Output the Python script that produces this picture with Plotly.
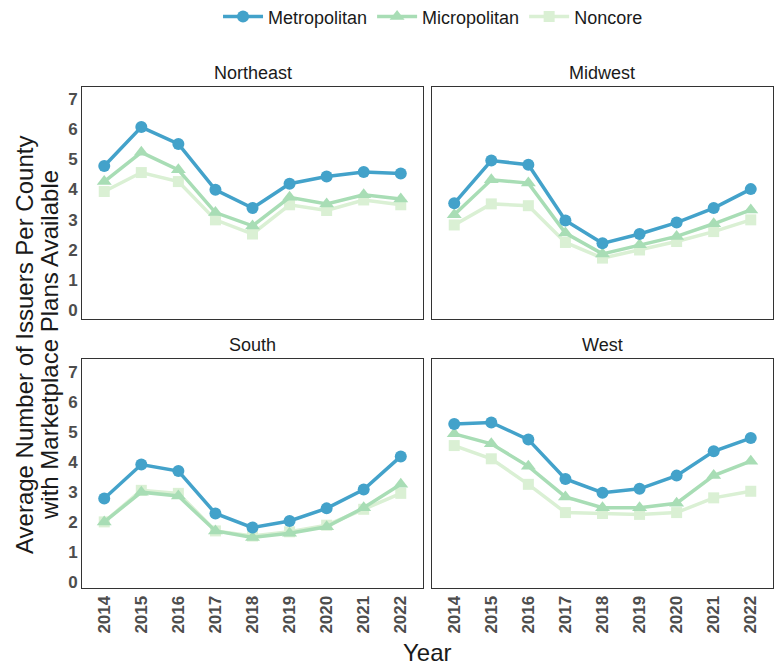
import plotly.graph_objects as go

years = [2014, 2015, 2016, 2017, 2018, 2019, 2020, 2021, 2022]
regions = ["Northeast", "Midwest", "South", "West"]
series_names = ["Metropolitan", "Micropolitan", "Noncore"]

northeast_metro = [4.78, 6.07, 5.51, 3.99, 3.38, 4.19, 4.43, 4.58, 4.53]
northeast_micro = [4.26, 5.23, 4.65, 3.23, 2.79, 3.74, 3.52, 3.82, 3.68]
northeast_noncore = [3.93, 4.56, 4.26, 2.99, 2.52, 3.49, 3.30, 3.65, 3.49]

midwest_metro = [3.54, 4.96, 4.82, 2.97, 2.21, 2.52, 2.90, 3.38, 4.01]
midwest_micro = [3.16, 4.32, 4.21, 2.55, 1.86, 2.16, 2.44, 2.86, 3.32]
midwest_noncore = [2.82, 3.52, 3.46, 2.24, 1.72, 1.99, 2.27, 2.60, 2.99]

south_metro = [2.78, 3.91, 3.69, 2.28, 1.81, 2.03, 2.45, 3.08, 4.18]
south_micro = [2.00, 2.99, 2.86, 1.70, 1.48, 1.62, 1.84, 2.47, 3.25]
south_noncore = [2.00, 3.05, 2.95, 1.70, 1.53, 1.67, 1.89, 2.42, 2.95]

west_metro = [5.26, 5.31, 4.74, 3.43, 2.97, 3.10, 3.54, 4.35, 4.79]
west_micro = [4.93, 4.60, 3.85, 2.83, 2.47, 2.47, 2.62, 3.54, 4.02]
west_noncore = [4.54, 4.10, 3.25, 2.31, 2.28, 2.25, 2.31, 2.80, 3.02]

y_ticks = [0, 1, 2, 3, 4, 5, 6, 7]

data = {
    "Northeast": [northeast_metro, northeast_micro, northeast_noncore],
    "Midwest": [midwest_metro, midwest_micro, midwest_noncore],
    "South": [south_metro, south_micro, south_noncore],
    "West": [west_metro, west_micro, west_noncore],
}

colors = ["#43a2ca", "#a8ddb5", "#daf0d4"]
symbols = ["circle", "triangle-up", "square"]
msizes = [12, 13, 11]

FONT = "Liberation Sans, Arial, sans-serif"

fig = go.Figure()

xdoms = [[0, 0.4935], [0.5065, 1]]
ydoms = [[0.537, 1], [0, 0.457]]
yranges = [[-0.3, 7.4], [-0.2, 7.42]]
panels = {}
for i, reg in enumerate(regions):
    r, c = divmod(i, 2)
    panels[reg] = (i + 1, xdoms[c], ydoms[r], r, c)

for reg in regions:
    idx, xd, yd, r, c = panels[reg]
    xa = "x" if idx == 1 else f"x{idx}"
    ya = "y" if idx == 1 else f"y{idx}"
    for s in [2, 1, 0]:
        fig.add_trace(go.Scatter(
            x=years, y=data[reg][s], mode="lines+markers",
            name=series_names[s], legendgroup=series_names[s],
            showlegend=(reg == "Northeast"),
            legendrank=s + 1,
            line=dict(color=colors[s], width=3.5),
            marker=dict(color=colors[s], symbol=symbols[s], size=msizes[s]),
            xaxis=xa, yaxis=ya,
        ))

layout = dict(
    width=778, height=667,
    margin=dict(l=82, r=5, t=87, b=79, autoexpand=False),
    paper_bgcolor="white", plot_bgcolor="white",
    font=dict(family=FONT, color="#1a1a1a"),
    showlegend=True,
    legend=dict(orientation="h", x=0.508, xanchor="center", y=1.14, yanchor="middle",
                font=dict(size=18, color="#1a1a1a", family=FONT), traceorder="normal",
                itemwidth=40),
    annotations=[],
)

for reg in regions:
    idx, xd, yd, r, c = panels[reg]
    suffix = "" if idx == 1 else str(idx)
    layout[f"xaxis{suffix}"] = dict(
        domain=xd, anchor=f"y{suffix}", range=[2013.4, 2022.6],
        tickvals=years, ticktext=[str(y) for y in years],
        showticklabels=(r == 1), tickangle=-90,
        tickfont=dict(size=17, color="#4d4d4d", family=FONT, weight="bold"),
        showgrid=False, zeroline=False,
        showline=True, linecolor="#333333", linewidth=1, mirror=True,
        ticks="",
    )
    layout[f"yaxis{suffix}"] = dict(
        domain=yd, anchor=f"x{suffix}", range=yranges[r],
        tickvals=y_ticks, showticklabels=(c == 0),
        tickfont=dict(size=17, color="#4d4d4d", family=FONT, weight="bold"),
        showgrid=False, zeroline=False,
        showline=True, linecolor="#333333", linewidth=1, mirror=True,
        ticks="",
    )
    layout["annotations"].append(dict(
        text=reg, x=(xd[0] + xd[1]) / 2, y=yd[1], xref="paper", yref="paper",
        xanchor="center", yanchor="bottom", yshift=2, showarrow=False,
        font=dict(size=18, color="#1a1a1a", family=FONT),
    ))

layout["annotations"].append(dict(
    text="Average Number of Issuers Per County",
    x=0, y=0.485, xref="paper", yref="paper", xshift=-58, textangle=-90,
    xanchor="center", yanchor="middle", showarrow=False,
    font=dict(size=24, color="#1a1a1a", family=FONT),
))
layout["annotations"].append(dict(
    text="with Marketplace Plans Available",
    x=0, y=0.485, xref="paper", yref="paper", xshift=-33, textangle=-90,
    xanchor="center", yanchor="middle", showarrow=False,
    font=dict(size=24, color="#1a1a1a", family=FONT),
))
layout["annotations"].append(dict(
    text="Year", x=0.5, y=0, xref="paper", yref="paper", yshift=-64,
    xanchor="center", yanchor="middle", showarrow=False,
    font=dict(size=24, color="#1a1a1a", family=FONT),
))

fig.update_layout(**layout)
fig.write_html("out.html", config={"displayModeBar": False},
               post_script="document.body.style.margin='0px';")
